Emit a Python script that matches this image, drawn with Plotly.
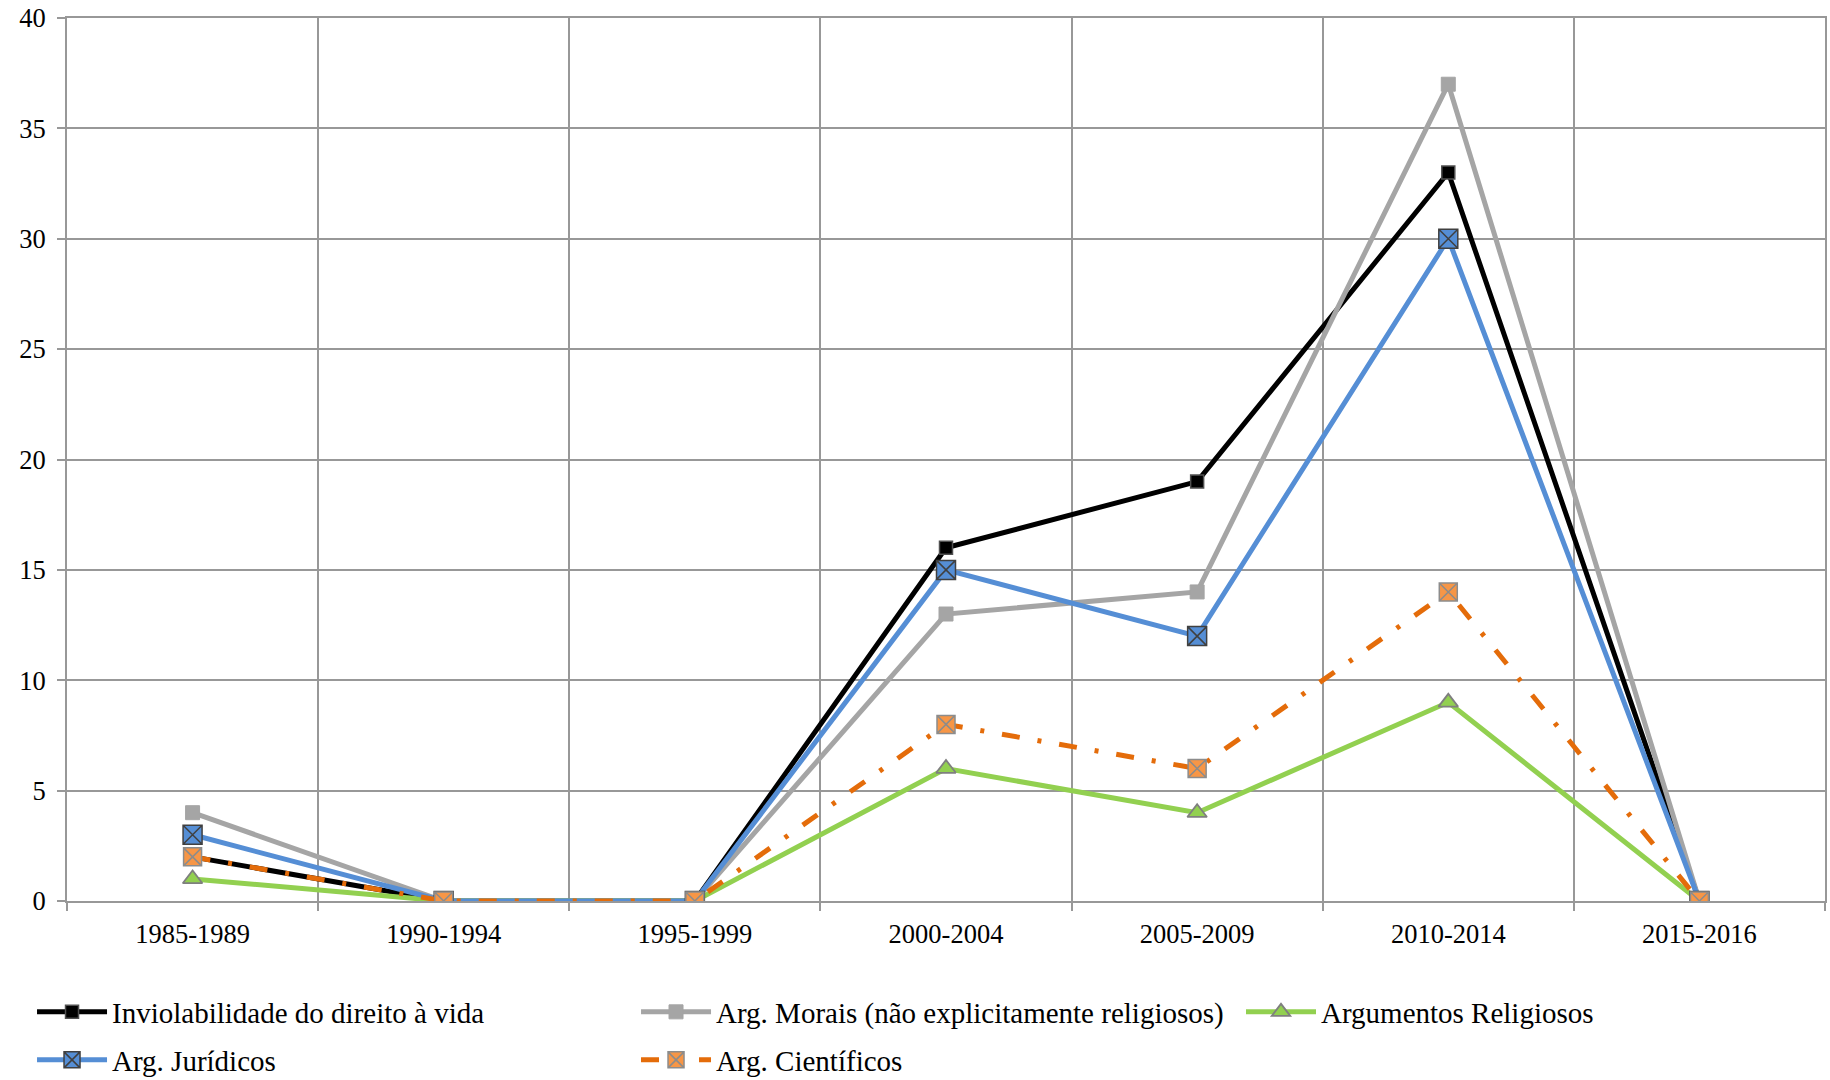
import plotly.graph_objects as go

periods = ["1985-1989", "1990-1994", "1995-1999", "2000-2004", "2005-2009", "2010-2014", "2015-2016"]
inviolabilidade = [2, 0, 0, 16, 19, 33, 0]
morais = [4, 0, 0, 13, 14, 37, 0]
religiosos = [1, 0, 0, 6, 4, 9, 0]
juridicos = [3, 0, 0, 15, 12, 30, 0]
cientificos = [2, 0, 0, 8, 6, 14, 0]
y_ticks = [0, 5, 10, 15, 20, 25, 30, 35, 40]

FONT = "Liberation Serif, Times New Roman, serif"
GRID = "#989898"
LEG_FONT = 29
TICK_FONT = 26.5

fig = go.Figure()

fig.add_trace(go.Scatter(
    x=periods, y=inviolabilidade, name="Inviolabilidade do direito à vida",
    mode="lines+markers", legend="legend",
    line=dict(color="#000000", width=5),
    marker=dict(symbol="square", size=13, color="#000000", line=dict(color="#505050", width=1.5)),
))
fig.add_trace(go.Scatter(
    x=periods, y=morais, name="Arg. Morais (não explicitamente religiosos)",
    mode="lines+markers", legend="legend",
    line=dict(color="#A5A5A5", width=5),
    marker=dict(symbol="square", size=14, color="#A5A5A5", line=dict(color="#A5A5A5", width=1)),
))
fig.add_trace(go.Scatter(
    x=periods, y=religiosos, name="Argumentos Religiosos",
    mode="lines+markers", legend="legend3",
    line=dict(color="#92D050", width=5),
    marker=dict(symbol="triangle-up", size=17, color="#92D050", line=dict(color="#7F7F7F", width=1.8)),
))
fig.add_trace(go.Scatter(
    x=periods, y=juridicos, name="Arg. Jurídicos",
    mode="lines+markers", legend="legend2",
    line=dict(color="#558ED5", width=5),
    marker=dict(symbol="square-x", size=19, color="#558ED5", line=dict(color="#404040", width=1.5)),
))
fig.add_trace(go.Scatter(
    x=periods, y=cientificos, name="Arg. Científicos",
    mode="lines+markers", legend="legend2",
    line=dict(color="#E46C0A", width=5, dash="18px,18px,4px,18px"),
    marker=dict(symbol="square-x", size=18, color="#F79646", line=dict(color="#8C8C8C", width=1.5)),
))

legend_common = dict(
    orientation="h",
    xref="container", yref="container",
    xanchor="left", yanchor="middle",
    entrywidth=519, entrywidthmode="pixels",
    itemwidth=70,
    font=dict(family=FONT, size=LEG_FONT, color="#000000"),
    bgcolor="rgba(0,0,0,0)",
)

fig.update_layout(
    width=1830, height=1080,
    margin=dict(l=67, r=3, t=17, b=179),
    plot_bgcolor="white", paper_bgcolor="white",
    font=dict(family=FONT, size=TICK_FONT, color="#000000"),
    showlegend=True,
    legend=dict(legend_common, x=0.0175, y=1 - 1012 / 1080),
    legend3=dict(legend_common, x=1241 / 1830, y=1 - 1012 / 1080),
    legend2=dict(legend_common, x=0.0175, y=1 - 1060 / 1080),
    xaxis=dict(
        type="category", categoryorder="array", categoryarray=periods,
        range=[-0.5, 6.5],
        tickson="boundaries", ticks="outside", ticklen=8, tickcolor=GRID, tickwidth=2,
        showgrid=True, gridcolor=GRID, gridwidth=2,
        showline=True, linecolor=GRID, linewidth=2, mirror=True,
        tickfont=dict(family=FONT, size=TICK_FONT, color="#000000"),
        ticklabelstandoff=8,
        zeroline=False,
    ),
    yaxis=dict(
        range=[0, 40], tickvals=y_ticks, ticktext=[str(v) for v in y_ticks],
        ticks="outside", ticklen=8, tickcolor=GRID, tickwidth=2,
        showgrid=True, gridcolor=GRID, gridwidth=2,
        showline=True, linecolor=GRID, linewidth=2, mirror=True,
        tickfont=dict(family=FONT, size=TICK_FONT, color="#000000"),
        ticklabelstandoff=6,
        zeroline=False,
    ),
)

fig.write_html("out.html")
